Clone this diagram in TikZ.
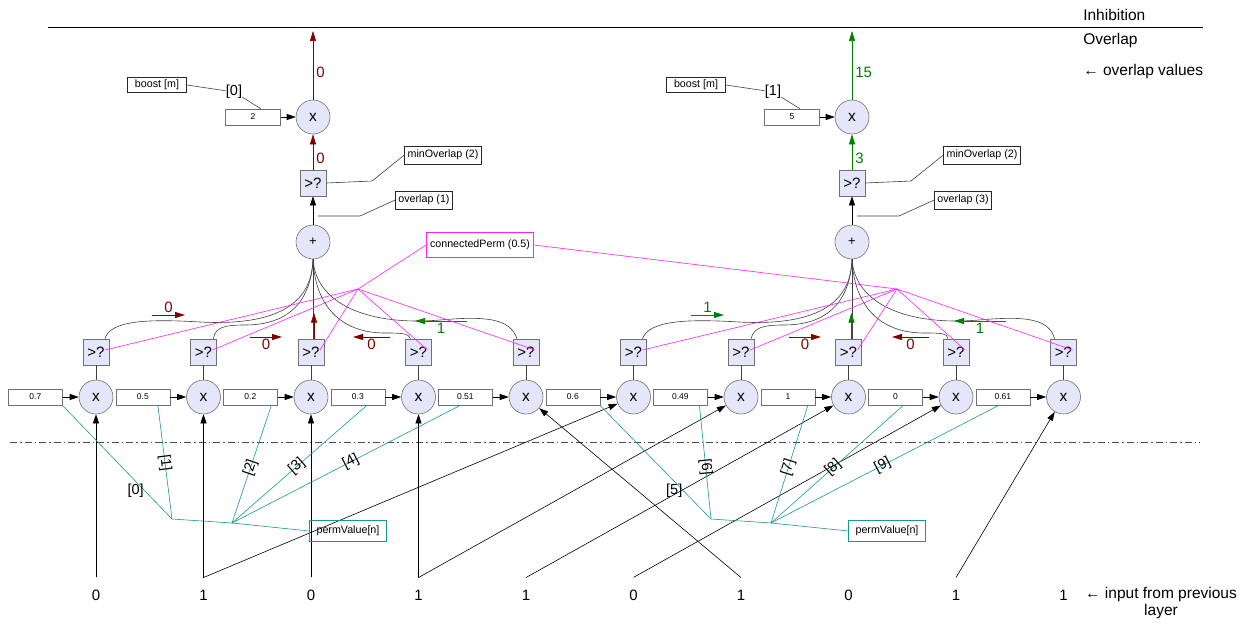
\documentclass[tikz,border=0pt]{standalone}
\usepackage{fontspec}
\setmainfont{Liberation Sans}
\usetikzlibrary{arrows.meta,positioning,calc}
\definecolor{fred}{HTML}{800000}
\definecolor{fgreen}{HTML}{008000}
\definecolor{fmag}{HTML}{FF22FF}
\definecolor{fteal}{HTML}{1A9696}
\definecolor{flav}{HTML}{E6E6FA}
\definecolor{fedge}{HTML}{707070}

\begin{document}
\begin{tikzpicture}[x=1pt, y=-1pt, line width=0.6pt,
  mul/.style={circle, draw=fedge, fill=flav, minimum size=34pt, inner sep=0pt, font=\fontsize{15.5}{16}\selectfont},
  sumnode/.style={circle, draw=fedge, fill=flav, minimum size=34pt, inner sep=0pt, font=\fontsize{13}{14}\selectfont},
  cmp/.style={draw=fedge, fill=flav, minimum size=26pt, inner sep=0pt, font=\fontsize{15}{16}\selectfont},
  wbox/.style={draw=fedge, minimum width=54pt, minimum height=16pt, inner sep=0pt, font=\fontsize{8.5}{10}\selectfont},
  note/.style={draw=black!85, minimum height=18pt, inner xsep=3pt, inner ysep=0pt, font=\fontsize{10.7}{12}\selectfont},
  idx/.style={inner sep=0pt, font=\fontsize{14.5}{16}\selectfont},
  val/.style={inner sep=0pt, font=\fontsize{15}{16}\selectfont},
  side/.style={inner sep=0pt, font=\fontsize{15.5}{16.5}\selectfont},
  wire/.style={draw=black!75},
  arr/.style={draw=black, -{Triangle[length=9pt,width=6pt]}},
  sarr/.style={line width=0.9pt, -{Triangle[length=10pt,width=6pt]}},
  magw/.style={draw=fmag},
  tealw/.style={draw=fteal}]
\useasboundingbox (0,0) rectangle (1250,629);
% ---------------- layer line and side texts ----------------
\coordinate (ll) at (48,27);
\coordinate (lr) at (1203,27);
\draw (ll) -- (lr);
\node[side, anchor=west] (inh) at (1083,15) {Inhibition};
\node[side, anchor=west] (ovl) at (1083,40) {Overlap};
\node[side, anchor=west] (ovv) at (1083,71) {← overlap values};
\node[side, align=center] (prev) at (1161,603) {← input from previous\\layer};
\draw[black!70, dash pattern=on 7pt off 3pt on 1.5pt off 3pt] (10,442) -- (1200,442);
% ---------------- columns: weights, products, thresholds ----------------
\foreach \w/\v [count=\i from 0] in {0.7/0,0.5/1,0.2/0,0.3/1,0.51/1,0.6/0,0.49/1,1/0,0/1,0.61/1}{
  \node[mul] (m\i) at ({96+107.5*\i},397) {x};
  \node[wbox, left=16pt of m\i] (w\i) {\w};
  \node[cmp] (c\i) at ({96+107.5*\i},352) {>?};
  \node[val] (in\i) at ({96+107.5*\i},595) {\v};
  \draw[wire] (c\i) -- (m\i);
  \draw[arr] (w\i) -- (m\i);
}
\foreach \a/\b in {0/0,1/1,2/2,3/3,1/5,3/6,4/7,5/8,6/4,8/9}
  \draw[arr] ([yshift=12pt]in\a.north) -- (m\b);
% ---------------- the two columns of the region ----------------
\foreach \g/\bv/\ov/\cnt/\res/\gc in {0/2/1/0/0/fred,1/5/3/3/15/fgreen}{
\begin{scope}[shift={(539*\g,0)}]
  \pgfmathtruncatemacro\ka{5*\g}
  \pgfmathtruncatemacro\kb{5*\g+1}
  \pgfmathtruncatemacro\kc{5*\g+2}
  \pgfmathtruncatemacro\kd{5*\g+3}
  \pgfmathtruncatemacro\ke{5*\g+4}
  \node[sumnode] (sum\g) at (313,242) {+};
  \node[cmp] (th\g) at (313,183) {>?};
  \node[mul] (bx\g) at (313,117) {x};
  \node[wbox, minimum width=55pt, left=15pt of bx\g] (bv\g) {\bv};
  \node[note, minimum width=59pt, minimum height=15pt] (bm\g) at (157,85) {boost [m]};
  \node[idx] (bi\g) at (234,92) {[\g]};
  \node[note] (mo\g) at (443,155) {minOverlap (2)};
  \node[note] (ov\g) at (424,200) {overlap (\ov)};
  \coordinate (mk\g) at (372,181);
  \coordinate (ok\g) at (360,216);
  \coordinate (ot\g) at (318,216);
  \coordinate (top\g) at (313,31);
  \draw[arr] (sum\g) -- (th\g);
  \draw[sarr, line width=0.6pt, color=\gc] (th\g) -- (bx\g) node[val, pos=0.33, right=3pt] {\cnt};
  \draw[sarr, line width=0.6pt, color=\gc] (bx\g) -- (top\g) node[val, pos=0.4, right=3pt] {\res};
  \draw[arr] (bv\g) -- (bx\g);
  \draw[wire] (bm\g.east) -- (bi\g) -- ([xshift=8pt]bv\g.north);
  \draw[wire] (mo\g.west) -- (mk\g) -- (th\g.east);
  \draw[wire] (ov\g.west) -- (ok\g) -- (ot\g);
  % inputs of the sum
  \draw[wire] ([xshift=9pt]c\ka.north) .. controls (110,320) and (150,319) .. (200,322)
     .. controls (275,326) and (312,305) .. (sum\g.south);
  \draw[wire] ([xshift=10pt]c\kb.north) .. controls (215,327) and (225,325) .. (245,325)
     .. controls (290,325) and (311,300) .. (sum\g.south);
  \draw[wire] (sum\g.south) -- (sum\g.south |- c\kc.north);
  \draw[wire] ([xshift=-8pt]c\kd.north) .. controls (409,333) and (400,333) .. (385,333)
     .. controls (340,333) and (315,305) .. (sum\g.south);
  \draw[wire] ([xshift=-9pt]c\ke.north) .. controls (510,318) and (485,316) .. (440,320)
     .. controls (370,326) and (316,305) .. (sum\g.south);
  \draw[sarr, color=\gc] ([xshift=3pt]c\kc.north) -- ++(0,-26);
  \foreach \k/\ax/\ay/\bx/\by/\lp in {0/152/315/185/315/above,1/250/337/282/337/below,
                                      3/390/337/353/337/below,4/467/321/415/321/below}{
    \pgfmathtruncatemacro\j{5*\g+\k}
    \pgfmathtruncatemacro\s{{0,0,0,0,1,1,0,1,0,1}[\j]}
    \ifnum\s=1 \def\sc{fgreen}\else\def\sc{fred}\fi
    \draw[sarr, color=\sc] (\ax,\ay) -- (\bx,\by) node[val, midway, \lp=2pt, text=\sc] {\s};
  }
  % connected permanence
  \coordinate (hp\g) at (358,289);
  \foreach \k in {0,...,4}{
    \pgfmathtruncatemacro\j{5*\g+\k}
    \draw[magw] (hp\g) -- ([shift={(9,-2)}]c\j.center);
  }
  % permanence values
  \node[note, draw=fteal, minimum width=77pt, minimum height=21pt] (pv\g) at (348,531) {permValue[n]};
  \coordinate (ha\g) at (172,519);
  \coordinate (hb\g) at (232,523);
  \draw[tealw] (pv\g.west) -- (hb\g) -- (ha\g);
  \draw[tealw] (ha\g) -- ([xshift=27pt]w\ka.south) node[idx, pos=0.25, xshift=-9pt] {[\ka]};
\end{scope}}
\node[note, draw=fmag, minimum width=107pt, minimum height=25pt] (cp) at (480,245) {connectedPerm (0.5)};
\draw[magw] (cp.west) -- (hp0);
\draw[magw] (cp.east) -- (hp1);
\foreach \h/\w/\dx/\p/\n in {ha0/w1/15/0.49/1,hb0/w2/21/0.47/2,hb0/w3/9/0.48/3,hb0/w4/-5/0.52/4,
                             ha1/w6/19/0.46/6,hb1/w7/20/0.47/7,hb1/w8/8/0.47/8,hb1/w9/-4/0.49/9}
  \draw[tealw] (\h) -- ([xshift=\dx pt]\w.south) node[idx, sloped, pos=\p] {[\n]};
\end{tikzpicture}
\end{document}
